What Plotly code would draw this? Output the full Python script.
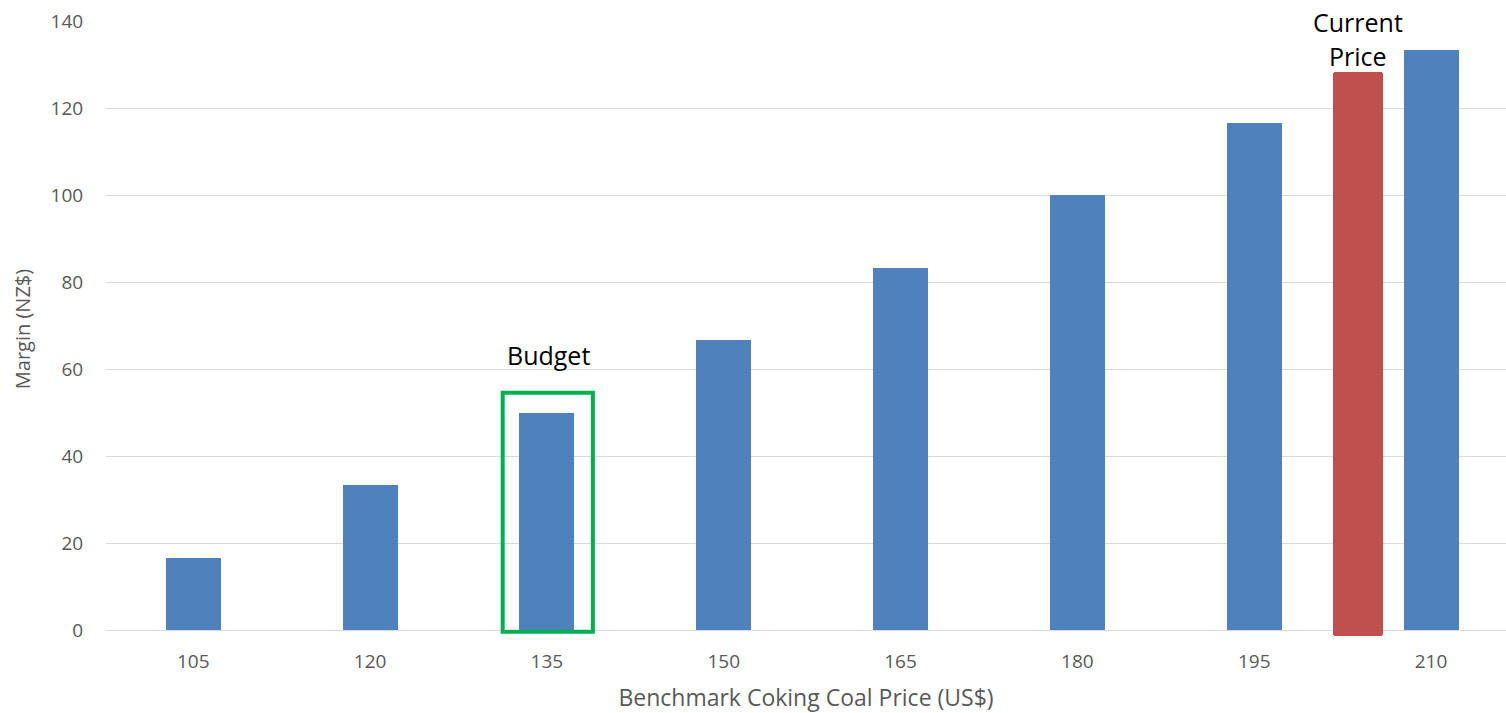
import plotly.graph_objects as go

# Data
prices = [105, 120, 135, 150, 165, 180, 195, 210]
margins = [16.67, 33.33, 50.0, 66.67, 83.33, 100.0, 116.67, 133.33]
current_price = [203.8]
current_margin = [128.3]
current_base = [-1.2]
y_ticks = [0, 20, 40, 60, 80, 100, 120, 140]
budget_box = dict(x0=131.25, x1=138.9, y0=-0.3, y1=54.6)

FONT = "Open Sans"
BLUE = "#4F81BD"
RED = "#C0504D"
GREEN = "#00B050"
GREY = "#595959"

fig = go.Figure()
fig.add_trace(go.Bar(
    x=prices, y=margins, width=4.67,
    marker=dict(color=BLUE, line=dict(width=0)),
    showlegend=False, hoverinfo="x+y",
))
fig.add_trace(go.Bar(
    x=current_price, y=[m - b for m, b in zip(current_margin, current_base)],
    base=current_base, width=4.25,
    marker=dict(color=RED, line=dict(width=0), cornerradius=3),
    showlegend=False,
))

fig.add_shape(type="rect", xref="x", yref="y",
              x0=budget_box["x0"], x1=budget_box["x1"],
              y0=budget_box["y0"], y1=budget_box["y1"],
              line=dict(color=GREEN, width=4), fillcolor="rgba(0,0,0,0)")

ANN_SIZE = 25
fig.add_annotation(x=135.1, y=63.3, text="Budget", showarrow=False,
                   font=dict(family=FONT, size=ANN_SIZE, color="black"),
                   xanchor="center", yanchor="middle")
fig.add_annotation(x=203.8, y=139.8, text="Current", showarrow=False,
                   font=dict(family=FONT, size=ANN_SIZE, color="black"),
                   xanchor="center", yanchor="middle")
fig.add_annotation(x=203.8, y=132.0, text="Price", showarrow=False,
                   font=dict(family=FONT, size=ANN_SIZE, color="black"),
                   xanchor="center", yanchor="middle")

fig.update_layout(
    width=1506, height=713,
    margin=dict(l=106, r=0, t=21, b=75.5),
    paper_bgcolor="white", plot_bgcolor="white",
    font=dict(family=FONT, color=GREY, size=19),
    bargap=0,
    xaxis=dict(
        range=[97.6, 216.36],
        tickmode="array", tickvals=prices, ticktext=[str(p) for p in prices],
        showgrid=False, zeroline=False, showline=False,
        ticks="outside", ticklen=7, tickcolor="rgba(0,0,0,0)",
        tickfont=dict(family=FONT, size=19, color=GREY),
        title=dict(text="Benchmark Coking Coal Price (US$)",
                   font=dict(family=FONT, size=23, color=GREY), standoff=18),
    ),
    yaxis=dict(
        range=[-1.5, 140],
        tickmode="array", tickvals=y_ticks,
        showgrid=True, gridcolor="#D9D9D9", gridwidth=1.3,
        zeroline=True, zerolinecolor="#D9D9D9", zerolinewidth=1.3,
        showline=False,
        ticks="outside", ticklen=18, tickcolor="rgba(0,0,0,0)",
        tickfont=dict(family=FONT, size=19, color=GREY),
        title=dict(text="Margin (NZ$)",
                   font=dict(family=FONT, size=20, color=GREY), standoff=14),
    ),
)

fig.write_html("out.html")
